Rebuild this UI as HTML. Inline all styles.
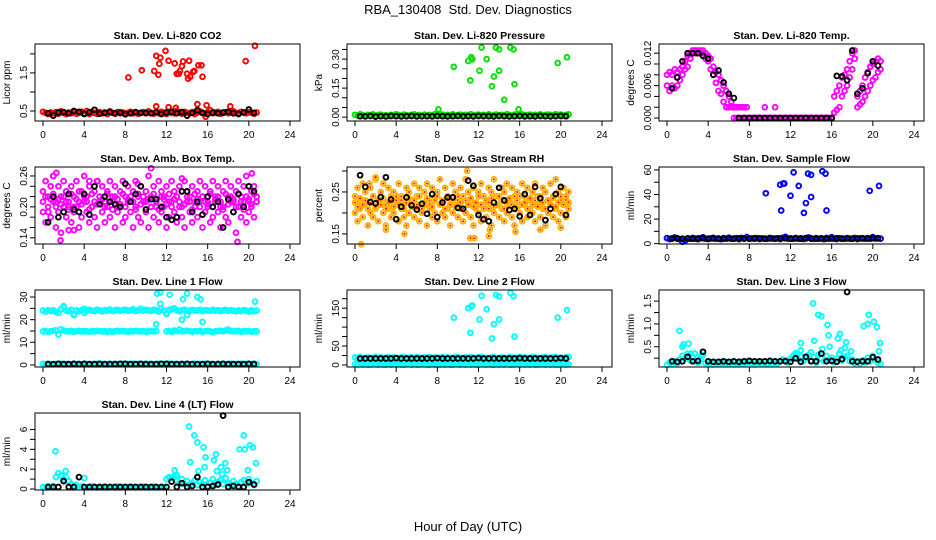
<!DOCTYPE html>
<html><head><meta charset="utf-8">
<style>
html,body{margin:0;padding:0;background:#fff;}
svg{display:block;font-family:"Liberation Sans",Arial,sans-serif;}
</style></head>
<body>
<svg id="chart" width="936" height="540" viewBox="0 0 936 540" xmlns="http://www.w3.org/2000/svg">
<text x="468" y="14" text-anchor="middle" font-size="13">RBA_130408&#160; Std. Dev. Diagnostics</text>
<text x="468" y="531" text-anchor="middle" font-size="13">Hour of Day (UTC)</text>
<g id="panels"></g>
</svg>
<script>
// ---------- shared time axes ----------
const H = [0,0.25,0.5,0.75,1,1.25,1.5,1.75,2,2.25,2.5,2.75,3,3.25,3.5,3.75,4,4.25,4.5,4.75,5,5.25,5.5,5.75,6,6.25,6.5,6.75,7,7.25,7.5,7.75,8,8.25,8.5,8.75,9,9.25,9.5,9.75,10,10.25,10.5,10.75,11,11.25,11.5,11.75,12,12.25,12.5,12.75,13,13.25,13.5,13.75,14,14.25,14.5,14.75,15,15.25,15.5,15.75,16,16.25,16.5,16.75,17,17.25,17.5,17.75,18,18.25,18.5,18.75,19,19.25,19.5,19.75,20,20.25,20.5,20.75];
const BH = [0.5,1,1.5,2,2.5,3,3.5,4,4.5,5,5.5,6,6.5,7,7.5,8,8.5,9,9.5,10,10.5,11,11.5,12,12.5,13,13.5,14,14.5,15,15.5,16,16.5,17,17.5,18,18.5,19,19.5,20,20.5];
const xTicks = [0,4,8,12,16,20,24];
const xTickLabels = ["0","4","8","12","16","20","24"];

// ---------- Panel 1: CO2 ----------
const co2Base = [0.48,0.45,0.42,0.46,0.44,0.47,0.43,0.49,0.45,0.42,0.46,0.44,0.47,0.43,0.45,0.48,0.44,0.50,0.42,0.46,0.45,0.43,0.47,0.44,0.46,0.42,0.49,0.45,0.43,0.47,0.44,0.46,0.41,0.45,0.48,0.44,0.46,0.43,0.45,0.47,0.44,0.49,0.45,0.43,0.46,0.44,0.48,0.45,0.42,0.47,0.45,0.44,0.50,0.46,0.43,0.48,0.45,0.44,0.47,0.42,0.46,0.49,0.45,0.43,0.47,0.52,0.44,0.46,0.48,0.43,0.45,0.47,0.44,0.46,0.49,0.45,0.43,0.48,0.46,0.44,0.47,0.45,0.43,0.46];
const co2OutH = [8.3,9.6,10.8,11.0,11.2,11.3,11.4,11.9,12.2,12.8,13.0,13.2,13.3,13.5,13.6,14.0,14.1,14.2,14.3,14.6,14.7,15.1,15.4,15.5,19.7,20.6,11.0,12.2,12.9,15.0,15.9,18.2,15.8];
const co2OutV = [1.38,1.57,1.55,1.95,1.45,1.74,1.90,2.08,1.82,1.75,1.48,1.48,1.55,1.68,1.80,1.48,1.35,1.82,1.40,1.53,1.55,1.70,1.70,1.40,1.81,2.21,0.62,0.60,0.58,0.68,0.65,0.62,0.35];
const co2Black = [0.44,0.38,0.46,0.47,0.44,0.50,0.48,0.42,0.47,0.53,0.43,0.45,0.47,0.44,0.46,0.42,0.44,0.47,0.45,0.45,0.44,0.47,0.42,0.46,0.48,0.44,0.47,0.38,0.45,0.52,0.45,0.42,0.46,0.44,0.46,0.48,0.44,0.42,0.46,0.54,0.45];
const co2Ticks = [0.5,1.0,1.5,2.0];
const co2Labels = ["0.5","","1.5",""];

// ---------- Panel 2: Pressure ----------
const presBase = [0.012,0.008,0.015,0.010,0.006,0.012,0.009,0.014,0.007,0.011,0.013,0.008,0.010,0.006,0.012,0.009,0.015,0.011,0.007,0.013,0.010,0.008,0.012,0.014,0.009,0.011,0.006,0.013,0.010,0.012,0.008,0.015,0.011,0.009,0.013,0.007,0.012,0.010,0.014,0.008,0.011,0.013,0.009,0.012,0.010,0.015,0.007,0.011,0.013,0.009,0.012,0.010,0.014,0.008,0.011,0.013,0.010,0.012,0.009,0.015,0.011,0.008,0.013,0.010,0.012,0.014,0.009,0.011,0.013,0.008,0.012,0.010,0.014,0.009,0.011,0.013,0.012,0.010,0.015,0.011,0.013,0.009,0.012,0.014];
const presOutH = [8.1,9.6,11.0,11.2,11.3,11.4,12.1,12.3,12.8,13.3,13.5,13.7,14.0,14.0,14.5,15.1,15.4,15.5,15.9,19.7,20.6];
const presOutV = [0.04,0.26,0.29,0.19,0.31,0.30,0.24,0.36,0.30,0.16,0.21,0.36,0.24,0.35,0.09,0.36,0.35,0.17,0.04,0.28,0.31];
const presBlack = [0.005,0.004,0.006,0.003,0.005,0.004,0.006,0.005,0.004,0.005,0.006,0.004,0.005,0.005,0.004,0.006,0.005,0.004,0.005,0.006,0.004,0.005,0.004,0.006,0.005,0.005,0.004,0.006,0.005,0.004,0.005,0.006,0.004,0.005,0.004,0.006,0.005,0.004,0.005,0.006,0.005];
const presTicks = [0,0.05,0.10,0.15,0.20,0.25,0.30,0.35];
const presLabels = ["0.00","","","0.15","","","0.30",""];

// ---------- Panel 3: Li-820 Temp ----------
const tempA = [0.008,0.0085,0.008,0.009,0.0085,0.009,0.0095,0.0105,0.0115,0.012,0.0125,0.0125,0.0125,0.0125,0.0125,0.012,0.0115,0.011,0.0095,0.0085,0.008,0.007,0.006,0.005,0.004,0.003,0.002,0.002,0.002,0.002,0.002,0.002,0,0,0,0,0,0,0.002,0,0,0,0.002,0,0,0,0,0,0,0,0,0,0,0,0,0,0,0,0,0,0,0,0,0,0,0.004,0.005,0.006,0.0075,0.008,0.009,0.0105,0.012,0.0125,0.004,0.005,0.006,0.0075,0.0085,0.0095,0.010,0.0105,0.011,0.0105];
const tempB = [0.006,0.005,0.006,0.0055,0.006,0.007,0.008,0.009,0.0095,0.011,0.012,0.012,0.012,0.012,0.012,0.011,0.0105,0.009,0.008,0.0065,0.005,0.0045,0.003,0.002,0.002,0.002,0,0,0,0,0,0,0,0,0,0,0,0,0,0,0,0,0,0,0,0,0,0,0,0,0,0,0,0,0,0,0,0,0,0,0,0,0,0,0,0.001,0.0015,0.002,0.004,0.005,0.006,0.0075,0.009,0.011,0.002,0.0025,0.003,0.004,0.005,0.006,0.007,0.0075,0.0085,0.009];
const tempBlack = [0.0055,0.0075,0.0105,0.012,0.012,0.012,0.0115,0.011,0.008,0.0088,0.0066,0.0045,0.0037,0,0,0,0,0,0,0,0,0,0,0,0,0,0,0,0,0,0,0,0.0078,0.0077,0.007,0.0125,0.0045,0.0055,0.0083,0.0105,0.0097];
const tempTicks = [0,0.002,0.004,0.006,0.008,0.010,0.012];
const tempLabels = ["0.000","","","0.006","","","0.012"];

// ---------- Panel 4: Amb Box Temp ----------
const ambA = [0.23,0.25,0.22,0.24,0.26,0.21,0.24,0.22,0.25,0.23,0.20,0.24,0.22,0.25,0.21,0.23,0.26,0.22,0.24,0.20,0.23,0.25,0.22,0.24,0.21,0.23,0.25,0.22,0.24,0.20,0.23,0.25,0.22,0.24,0.21,0.23,0.25,0.22,0.24,0.21,0.23,0.26,0.22,0.24,0.20,0.25,0.23,0.22,0.24,0.21,0.25,0.23,0.22,0.24,0.20,0.25,0.23,0.22,0.24,0.21,0.23,0.25,0.22,0.24,0.21,0.23,0.25,0.22,0.24,0.20,0.23,0.25,0.22,0.24,0.21,0.23,0.25,0.22,0.24,0.26,0.21,0.23,0.24,0.22];
const ambB = [0.19,0.17,0.20,0.18,0.21,0.16,0.19,0.15,0.20,0.18,0.21,0.17,0.19,0.20,0.16,0.18,0.21,0.19,0.17,0.20,0.18,0.16,0.21,0.19,0.17,0.20,0.18,0.21,0.16,0.19,0.20,0.17,0.18,0.21,0.19,0.16,0.20,0.18,0.17,0.21,0.19,0.16,0.20,0.18,0.21,0.17,0.19,0.20,0.16,0.18,0.21,0.19,0.17,0.20,0.18,0.16,0.21,0.19,0.17,0.20,0.18,0.21,0.16,0.19,0.20,0.17,0.18,0.21,0.19,0.16,0.20,0.18,0.17,0.21,0.19,0.15,0.20,0.18,0.21,0.17,0.19,0.20,0.18,0.21];
const ambC = [0.21,0.22,0.19,0.215,0.225,0.20,0.215,0.205,0.22,0.21,0.195,0.225,0.20,0.215,0.23,0.205,0.22,0.21,0.195,0.225,0.21,0.205,0.22,0.215,0.20,0.225,0.21,0.195,0.22,0.215,0.205,0.225,0.20,0.215,0.22,0.21,0.195,0.225,0.205,0.22,0.21,0.215,0.20,0.225,0.21,0.195,0.22,0.215,0.205,0.225,0.20,0.215,0.22,0.21,0.23,0.205,0.22,0.21,0.195,0.225,0.215,0.20,0.22,0.21,0.205,0.225,0.20,0.215,0.22,0.21,0.195,0.225,0.205,0.22,0.215,0.20,0.225,0.21,0.195,0.22,0.215,0.205,0.225,0.21];
const ambOutH = [1.3,1.7,10.5,18.9,20.3,4.5,5.3,1.0,2.5,9.2,13.5,3.0];
const ambOutV = [0.266,0.135,0.275,0.132,0.265,0.25,0.25,0.26,0.155,0.245,0.255,0.155];
const ambBlack = [0.17,0.22,0.18,0.19,0.225,0.195,0.19,0.225,0.185,0.24,0.205,0.22,0.21,0.205,0.20,0.245,0.21,0.225,0.24,0.195,0.215,0.215,0.20,0.18,0.175,0.18,0.23,0.23,0.19,0.21,0.185,0.22,0.20,0.21,0.16,0.215,0.19,0.225,0.20,0.24,0.23];
const ambTicks = [0.14,0.16,0.18,0.20,0.22,0.24,0.26];
const ambLabels = ["0.14","","","0.20","","","0.26"];

// ---------- Panel 5: Gas Stream RH ----------
const rhA = [0.24,0.26,0.23,0.27,0.25,0.22,0.26,0.24,0.28,0.23,0.25,0.27,0.22,0.26,0.24,0.25,0.23,0.27,0.24,0.22,0.26,0.25,0.23,0.27,0.24,0.26,0.22,0.25,0.27,0.23,0.26,0.24,0.25,0.28,0.23,0.26,0.24,0.22,0.27,0.25,0.23,0.26,0.24,0.28,0.25,0.23,0.26,0.22,0.25,0.27,0.24,0.23,0.26,0.25,0.28,0.24,0.22,0.26,0.25,0.27,0.23,0.26,0.24,0.25,0.22,0.27,0.24,0.26,0.23,0.25,0.27,0.24,0.22,0.26,0.25,0.23,0.27,0.24,0.28,0.25,0.23,0.26,0.24,0.25];
const rhB = [0.20,0.18,0.21,0.19,0.22,0.17,0.20,0.19,0.21,0.18,0.22,0.20,0.17,0.21,0.19,0.20,0.22,0.18,0.21,0.19,0.17,0.20,0.22,0.19,0.21,0.18,0.20,0.22,0.17,0.21,0.19,0.20,0.18,0.22,0.20,0.19,0.21,0.17,0.20,0.22,0.19,0.21,0.18,0.20,0.22,0.19,0.17,0.21,0.20,0.18,0.22,0.19,0.21,0.17,0.20,0.22,0.19,0.21,0.18,0.20,0.22,0.19,0.17,0.21,0.20,0.18,0.22,0.19,0.21,0.20,0.18,0.22,0.19,0.21,0.17,0.20,0.22,0.19,0.21,0.18,0.20,0.22,0.19,0.21];
const rhC = [0.225,0.215,0.235,0.22,0.23,0.21,0.225,0.24,0.215,0.23,0.22,0.235,0.21,0.225,0.23,0.215,0.24,0.22,0.23,0.21,0.225,0.235,0.215,0.23,0.22,0.24,0.21,0.225,0.235,0.22,0.215,0.23,0.24,0.22,0.225,0.21,0.235,0.22,0.23,0.215,0.24,0.225,0.21,0.23,0.22,0.235,0.215,0.225,0.24,0.22,0.21,0.23,0.225,0.235,0.215,0.22,0.24,0.23,0.21,0.225,0.235,0.22,0.215,0.23,0.24,0.22,0.225,0.21,0.235,0.22,0.23,0.215,0.24,0.225,0.21,0.23,0.22,0.235,0.215,0.225,0.24,0.22,0.23,0.225];
const rhOutH = [0.6,1.4,3.0,4.8,10.9,11.2,11.6,13.0,13.1,15.6,20.0,2.0,18.0];
const rhOutV = [0.125,0.27,0.16,0.15,0.30,0.14,0.14,0.145,0.16,0.155,0.165,0.285,0.16];
const rhBlack = [0.29,0.262,0.226,0.223,0.238,0.285,0.232,0.185,0.215,0.237,0.218,0.208,0.222,0.198,0.245,0.19,0.225,0.237,0.237,0.212,0.21,0.277,0.265,0.195,0.185,0.18,0.225,0.26,0.23,0.207,0.21,0.192,0.245,0.195,0.262,0.235,0.183,0.21,0.245,0.262,0.195];
const rhTicks = [0.15,0.20,0.25,0.30];
const rhLabels = ["0.15","","0.25",""];

// ---------- Panel 6: Sample Flow ----------
const sfBase = [4.5,3.8,4.2,5.0,4.0,3.6,1.5,2.5,4.2,3.9,4.6,4.1,3.7,4.4,5.1,4.0,3.8,4.3,4.7,3.9,4.2,3.6,4.5,4.0,4.8,3.9,4.2,4.4,3.7,4.6,4.1,5.3,3.9,4.2,4.0,4.5,3.8,4.3,4.1,3.9,4.6,4.2,4.0,4.4,3.8,4.7,5.5,4.1,4.3,3.9,4.6,4.0,4.4,3.8,4.2,5.0,4.1,3.9,4.5,4.0,4.3,3.7,4.6,4.1,5.2,4.0,3.8,4.4,4.2,3.9,4.5,4.1,4.0,4.6,3.8,4.3,4.2,4.0,4.5,3.9,5.3,4.2,4.4,4.1];
const sfOutH = [9.6,11.0,11.1,11.3,11.4,12.0,12.3,12.8,13.3,13.5,13.7,14.0,14.0,15.1,15.4,15.5,19.7,20.6];
const sfOutV = [41,48,27,49,49,39,58,47,25,33,57,38,56,59,57,27,43,47];
const sfBlack = [4.2,4.4,4.0,4.3,4.1,4.2,4.5,4.0,4.3,4.1,4.2,4.4,4.0,4.3,4.2,4.1,4.4,4.2,4.0,4.3,4.1,4.2,4.4,4.0,4.3,4.1,4.5,4.2,4.0,4.3,4.1,4.2,4.4,4.0,4.3,4.1,4.2,4.4,4.2,4.5,4.3];
const sfTicks = [0,10,20,30,40,50,60];
const sfLabels = ["0","","20","","40","","60"];

// ---------- Panel 7: Line 1 Flow ----------
const l1Top = [24.0,23.6,24.2,23.8,24.1,23.5,23.0,24.6,25.5,24.0,23.8,24.3,22.5,24.1,23.7,24.2,24.8,23.9,24.3,24.0,23.8,24.4,24.1,23.7,24.2,24.0,24.5,23.8,24.1,24.3,23.9,24.2,24.4,24.0,24.1,24.6,23.8,24.2,24.8,24.0,24.3,24.1,23.9,24.4,24.2,23.6,24.8,24.0,22.8,24.3,24.6,25.0,24.1,23.8,24.2,24.4,24.0,23.9,24.3,24.1,24.0,24.4,23.8,24.2,24.1,23.9,24.3,24.0,24.2,23.8,24.1,24.3,23.9,24.2,24.0,23.7,24.1,23.8,24.2,24.0,23.6,24.1,23.8,24.0];
const l1Mid = [14.8,15.0,14.7,14.9,15.1,15.3,13.5,15.8,15.2,14.9,14.8,15.0,14.7,14.9,15.1,14.8,15.0,14.9,14.7,15.0,14.8,15.1,14.9,14.8,15.0,14.7,15.0,14.6,14.9,15.1,14.8,15.0,14.9,14.7,15.0,14.8,15.1,14.9,14.8,15.0,14.7,15.0,14.9,14.8,15.0,null,null,null,14.8,15.0,14.7,15.2,14.9,15.6,14.8,15.0,15.1,14.9,14.7,15.0,14.8,15.1,14.6,14.9,15.0,14.8,14.5,14.9,15.0,15.1,14.8,15.3,15.6,15.0,14.8,14.9,15.1,14.7,15.0,14.8,15.0,14.7,14.9,14.8];
const l1Low = [0.5,0.3,0.6,0.4,0.3,0.5,0.4,0.6,0.3,0.5,0.4,0.3,0.6,0.4,0.5,0.3,0.6,0.4,0.3,0.5,0.4,0.6,0.3,0.5,0.4,0.3,0.6,0.4,0.5,0.3,0.4,0.6,0.3,0.5,0.4,0.6,0.3,0.5,0.4,0.3,0.6,0.4,0.5,0.3,0.4,0.6,0.3,0.5,0.4,0.6,0.3,0.5,0.4,0.3,0.6,0.4,0.5,0.3,0.4,0.6,0.3,0.5,0.4,0.6,0.3,0.5,0.4,0.3,0.6,0.4,0.5,0.3,0.4,0.6,0.3,0.5,0.4,0.6,0.3,0.5,0.4,0.3,0.6,0.4];
const l1OutH = [2.0,3.0,4.0,11.0,11.1,11.4,11.4,12.0,12.3,13.5,13.6,14.0,14.0,15.0,15.3,15.5,20.6];
const l1OutV = [26,22,23,18,31.5,32,27,22.5,31,20,29,22,31.5,30,29,19,28];
const l1Black = [0.4,0.4,0.5,0.4,0.4,0.5,0.4,0.5,0.4,0.4,0.5,0.4,0.4,0.4,0.5,0.5,0.4,0.4,0.5,0.4,0.4,0.4,0.5,0.5,0.4,0.4,0.4,0.5,0.4,0.4,0.4,0.5,0.4,0.4,0.5,0.4,0.4,0.4,0.4,0.5,0.4];
const l1Ticks = [0,5,10,15,20,25,30];
const l1Labels = ["0","","10","","20","","30"];

// ---------- Panel 8: Line 2 Flow ----------
const l2Top = [20,18,21,17,19,20,18,19,21,17,20,18,19,21,18,20,19,17,20,21,18,19,20,17,21,19,18,20,19,21,17,20,18,19,21,18,20,19,17,21,20,18,19,20,17,21,19,18,20,21,18,19,17,20,21,19,18,20,19,17,21,20,18,19,21,17,20,19,18,21,20,19,17,20,21,18,19,20,21,18,19,17,20,21];
const l2Low = [2,1,3,1,2,0.5,1,2,3,1,2,1,0.5,2,1,3,1,2,1,0.5,2,3,1,2,1,1,3,2,1,0.5,2,1,3,1,2,1,2,0.5,1,3,2,1,2,1,3,1,2,0.5,1,2,3,1,2,1,0.5,2,1,3,1,2,1,0.5,2,3,1,2,1,3,1,2,0.5,1,2,3,1,2,1,2,0.5,1,3,2,1,2];
const l2OutH = [9.6,11.0,11.2,11.3,11.4,12.1,12.3,12.8,13.3,13.5,13.7,14.0,14.0,15.1,15.4,15.5,19.7,20.6];
const l2OutV = [125,150,85,155,157,120,183,147,70,108,185,120,181,190,182,75,125,145];
const l2Black = [17,17,17,17,17,17,17,18,17,17,17,17,17,17,17,18,17,17,17,17,17,17,17,18,17,17,17,17,17,17,17,18,17,17,17,17,17,17,17,18,17];
const l2Ticks = [0,25,50,75,100,125,150,175];
const l2Labels = ["0","","50","","","","150",""];

// ---------- Panel 9: Line 3 Flow ----------
const l3Base = [0.10,0.15,0.12,0.18,0.14,0.22,0.30,0.25,0.35,0.20,0.28,0.18,0.15,0.22,0.32,0.14,0.12,0.16,0.11,0.14,0.12,0.17,0.13,0.15,0.12,0.16,0.11,0.14,0.13,0.17,0.12,0.15,0.18,0.13,0.11,0.16,0.14,0.12,0.17,0.13,0.15,0.12,0.16,0.14,0.18,0.22,0.20,0.15,0.24,0.30,0.36,0.22,0.28,0.18,0.25,0.32,0.20,0.28,0.15,0.33,0.24,0.18,0.30,0.22,0.26,0.16,0.24,0.35,0.20,0.28,0.30,0.18,0.22,0.14,0.18,0.13,0.20,0.16,0.26,0.18,0.30,0.22,0.15,0.12];
const l3OutH = [1.2,1.5,1.6,2.1,2.3,2.7,3.3,12.7,13.0,13.0,14.0,14.2,14.3,14.7,15.0,15.1,15.6,15.7,15.8,16.6,16.8,16.9,17.3,17.4,17.9,19.1,19.5,19.6,20.1,20.4,20.6,20.7];
const l3OutV = [0.85,0.5,0.55,0.57,0.35,0.35,0.3,0.35,0.42,0.58,0.38,1.45,0.63,1.2,1.17,0.45,0.98,0.75,0.5,0.68,0.78,0.42,0.48,0.6,0.4,0.95,1.0,1.2,1.05,0.93,0.4,0.58];
const l3Black = [0.18,0.17,0.18,0.28,0.18,0.19,0.39,0.18,0.17,0.17,0.18,0.17,0.18,0.17,0.18,0.19,0.18,0.18,0.18,0.19,0.18,0.18,0.18,0.17,0.25,0.17,0.28,0.18,0.18,0.35,0.18,0.19,0.17,0.23,1.70,0.18,0.17,0.18,0.18,0.27,0.22];
const l3Ticks = [0.25,0.5,0.75,1.0,1.25,1.5];
const l3Labels = ["","0.5","","1.0","","1.5"];

// ---------- Panel 10: Line 4 (LT) Flow ----------
const l4Base = [0.2,0.15,0.25,0.2,0.3,1.2,1.6,1.4,1.0,1.2,0.8,0.5,0.3,0.4,0.2,0.25,0.2,0.15,0.2,0.25,0.2,0.15,0.2,0.2,0.25,0.15,0.2,0.2,0.15,0.25,0.2,0.2,0.15,0.2,0.25,0.2,0.15,0.2,0.2,0.25,0.2,0.15,0.2,0.25,0.2,0.15,0.2,0.2,1.0,1.2,1.1,1.3,0.8,0.6,1.0,0.5,0.8,0.4,0.6,0.9,0.4,0.7,0.5,0.9,0.3,0.6,1.0,0.4,0.7,0.9,0.5,1.1,0.6,0.4,0.8,0.5,0.3,0.7,0.9,0.5,1.0,0.6,0.4,0.8];
const l4OutH = [1.2,2.2,4.0,12.8,13.0,14.2,14.3,14.7,15.0,15.1,15.6,15.7,15.8,16.6,16.8,16.9,17.3,17.4,17.7,17.9,19.1,19.5,19.6,19.9,20.1,20.4,20.7];
const l4OutV = [3.8,1.8,1.1,1.9,1.4,6.3,2.7,5.4,4.7,1.8,4.2,2.2,3.2,2.9,3.5,1.8,2.2,1.5,2.6,1.9,4.0,5.4,4.0,1.9,4.4,4.2,2.6];
const l4Black = [0.2,0.2,0.2,0.8,0.2,0.2,1.2,0.2,0.2,0.2,0.2,0.2,0.2,0.2,0.2,0.2,0.2,0.2,0.2,0.2,0.2,0.2,0.2,0.2,0.75,0.2,0.6,0.2,0.3,1.2,0.2,0.2,0.3,0.45,7.4,0.2,0.3,0.2,0.2,0.7,0.45];
const l4Ticks = [0,1,2,3,4,5,6];
const l4Labels = ["0","","2","","4","","6"];

// ---------- drawing ----------
const NS = "http://www.w3.org/2000/svg";
const root = document.getElementById("panels");
function mk(tag, attrs, parent){
  const e = document.createElementNS(NS, tag);
  for (const k in attrs) e.setAttribute(k, attrs[k]);
  parent.appendChild(e);
  return e;
}
function panel(col, row, slug, title, ylab, dom, yTicks, yLabels, series){
  const x0 = 43 + 312*col;
  const top = 44 + 123*row;
  const bot = top + 77;
  const left = x0 - 8, right = x0 + 257;
  const xs = h => x0 + h*247/24;
  const ys = v => bot - (v - dom[0])/(dom[1]-dom[0])*(bot-top);
  const g = mk("g", {}, root);
  
  
  const t = mk("text", {x:(left+right)/2, y:top-5, "text-anchor":"middle", "font-size":"10.5", "font-weight":"bold"}, g);
  t.textContent = title;
  
  
  const pts = mk("g", {fill:"none","stroke-width":"1.9"}, g);
  
  
  series.forEach(s => {
    for (let i=0;i<s.x.length;i++){
      const v = s.y[i];
      if (v === null || v === undefined) continue;
      const cx = xs(s.x[i]), cy = ys(v);
      const c = mk("circle", {cx:cx.toFixed(1), cy:cy.toFixed(1), r:"2.4", stroke:s.color}, pts);
      
      
      if (s.inner){
        const d = mk("circle", {cx:cx.toFixed(1), cy:cy.toFixed(1), r:"1", fill:s.inner, stroke:"none"}, pts);
        
        
      }
    }
  });
  const box = mk("rect", {x:left, y:top, width:right-left, height:bot-top, fill:"none", stroke:"#000", "stroke-width":"1"}, g);
  
  
  const xa = mk("g", {}, g);
  
  
  xTicks.forEach((tv, i) => {
    mk("line", {x1:xs(tv), x2:xs(tv), y1:bot, y2:bot+5, stroke:"#000"}, xa);
    const lt = mk("text", {x:xs(tv), y:bot+17, "text-anchor":"middle", "font-size":"10"}, xa);
    lt.textContent = xTickLabels[i];
  });
  const ya = mk("g", {}, g);
  
  
  mk("line", {x1:left, x2:left, y1:ys(yTicks[0]), y2:ys(yTicks[yTicks.length-1]), stroke:"#000"}, ya);
  yTicks.forEach((tv, i) => {
    const y = ys(tv);
    mk("line", {x1:left-5, x2:left, y1:y, y2:y, stroke:"#000"}, ya);
    if (yLabels[i]){
      const lt = mk("text", {x:0, y:0, "text-anchor":"middle", "font-size":"10", transform:`translate(${left-8},${y}) rotate(-90)`}, ya);
      lt.textContent = yLabels[i];
    }
  });
  const yt = mk("text", {x:0, y:0, "text-anchor":"middle", "font-size":"10", transform:`translate(${left-25},${(top+bot)/2}) rotate(-90)`}, g);
  yt.textContent = ylab;
  
  
}

const RED="#ff0000", GRN="#00e000", MAG="#ff00ff", ORG="#ffb000", BLU="#0000ff", CYN="#00ffff", BLK="#000000";

panel(0,0,"co2","Stan. Dev. Li-820 CO2","Licor ppm",[0.237,2.26],co2Ticks,co2Labels,[
  {name:"red",x:H,y:co2Base,color:RED},{name:"red-high",x:co2OutH,y:co2OutV,color:RED},{name:"black",x:BH,y:co2Black,color:BLK}]);
panel(1,0,"pressure","Stan. Dev. Li-820 Pressure","kPa",[-0.02,0.378],presTicks,presLabels,[
  {name:"green",x:H,y:presBase,color:GRN},{name:"green-high",x:presOutH,y:presOutV,color:GRN},{name:"black",x:BH,y:presBlack,color:BLK}]);
panel(2,0,"li820-temp","Stan. Dev. Li-820 Temp.","degrees C",[-0.00055,0.0137],tempTicks,tempLabels,[
  {name:"magenta-a",x:H,y:tempA,color:MAG},{name:"magenta-b",x:H,y:tempB,color:MAG},{name:"black",x:BH,y:tempBlack,color:BLK}]);
panel(0,1,"amb-box-temp","Stan. Dev. Amb. Box Temp.","degrees C",[0.128,0.2774],ambTicks,ambLabels,[
  {name:"magenta-a",x:H,y:ambA,color:MAG},{name:"magenta-b",x:H,y:ambB,color:MAG},{name:"magenta-c",x:H,y:ambC,color:MAG},{name:"magenta-extra",x:ambOutH,y:ambOutV,color:MAG},{name:"black",x:BH,y:ambBlack,color:BLK}]);
panel(1,1,"gas-rh","Stan. Dev. Gas Stream RH","percent",[0.126,0.3095],rhTicks,rhLabels,[
  {name:"orange-a",x:H,y:rhA,color:ORG,inner:RED},{name:"orange-b",x:H,y:rhB,color:ORG,inner:RED},{name:"orange-c",x:H,y:rhC,color:ORG,inner:RED},{name:"orange-extra",x:rhOutH,y:rhOutV,color:ORG,inner:RED},{name:"black",x:BH,y:rhBlack,color:BLK}]);
panel(2,1,"sample-flow","Stan. Dev. Sample Flow","ml/min",[-0.3,62.4],sfTicks,sfLabels,[
  {name:"blue",x:H,y:sfBase,color:BLU},{name:"blue-high",x:sfOutH,y:sfOutV,color:BLU},{name:"black",x:BH,y:sfBlack,color:BLK}]);
panel(0,2,"line1-flow","Stan. Dev. Line 1 Flow","ml/min",[-0.9,33.1],l1Ticks,l1Labels,[
  {name:"cyan-top",x:H,y:l1Top,color:CYN},{name:"cyan-mid",x:H,y:l1Mid,color:CYN},{name:"cyan-low",x:H,y:l1Low,color:CYN},{name:"cyan-high",x:l1OutH,y:l1OutV,color:CYN},{name:"black",x:BH,y:l1Black,color:BLK}]);
panel(1,2,"line2-flow","Stan. Dev. Line 2 Flow","ml/min",[-5.4,198],l2Ticks,l2Labels,[
  {name:"cyan-top",x:H,y:l2Top,color:CYN},{name:"cyan-low",x:H,y:l2Low,color:CYN},{name:"cyan-high",x:l2OutH,y:l2OutV,color:CYN},{name:"black",x:BH,y:l2Black,color:BLK}]);
panel(2,2,"line3-flow","Stan. Dev. Line 3 Flow","ml/min",[0.056,1.744],l3Ticks,l3Labels,[
  {name:"cyan",x:H,y:l3Base,color:CYN},{name:"cyan-high",x:l3OutH,y:l3OutV,color:CYN},{name:"black",x:BH,y:l3Black,color:BLK}]);
panel(0,3,"line4-flow","Stan. Dev. Line 4 (LT) Flow","ml/min",[-0.1,7.66],l4Ticks,l4Labels,[
  {name:"cyan",x:H,y:l4Base,color:CYN},{name:"cyan-high",x:l4OutH,y:l4OutV,color:CYN},{name:"black",x:BH,y:l4Black,color:BLK}]);
</script>
</body></html>
